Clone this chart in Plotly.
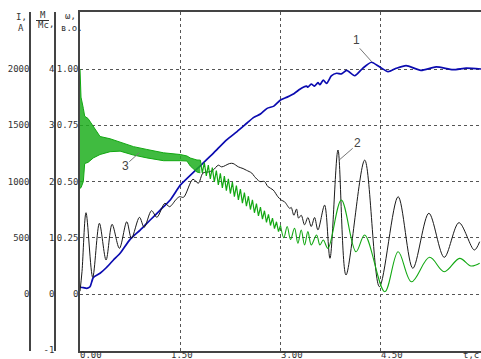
import plotly.graph_objects as go

# ---------------- data ----------------
# curve 1: speed omega (p.u.)
t_w = [0.00, 0.05, 0.10, 0.15, 0.20, 0.30, 0.40, 0.50, 0.60, 0.75, 0.90, 1.05, 1.20, 1.35, 1.45, 1.50,
       1.75, 2.00, 2.19, 2.35, 2.50, 2.60, 2.70, 2.80, 2.90, 3.00, 3.10, 3.20, 3.29, 3.34, 3.39, 3.41,
       3.46, 3.51, 3.56, 3.59, 3.64, 3.69, 3.76, 3.84, 3.91, 3.99, 4.11, 4.23, 4.36, 4.48, 4.61, 4.73,
       4.88, 5.10, 5.33, 5.58, 5.78, 6.00]
w_vals = [0.030, 0.028, 0.025, 0.032, 0.074, 0.092, 0.119, 0.151, 0.181, 0.243, 0.284, 0.329, 0.373, 0.418,
          0.462, 0.484, 0.556, 0.627, 0.684, 0.722, 0.760, 0.785, 0.800, 0.825, 0.835, 0.862, 0.875, 0.890,
          0.910, 0.919, 0.924, 0.919, 0.933, 0.924, 0.939, 0.930, 0.951, 0.936, 0.969, 0.981, 0.978, 0.994,
          0.970, 1.003, 1.030, 1.010, 0.988, 1.003, 1.015, 0.994, 1.009, 0.997, 1.004, 1.000]

# curve 2: torque M/Mc
t_m = [0.00, 0.03, 0.09, 0.19, 0.29, 0.39, 0.48, 0.59, 0.70, 0.77, 0.89, 0.96, 1.07, 1.15, 1.27, 1.34,
       1.44, 1.49, 1.55, 1.69, 1.77, 1.84, 1.92, 1.99, 2.07, 2.12, 2.24, 2.29, 2.37, 2.44, 2.49, 2.57,
       2.61, 2.69, 2.76, 2.81, 2.89, 2.96, 3.01, 3.06, 3.14, 3.16, 3.20, 3.24, 3.27, 3.31, 3.36, 3.41,
       3.46, 3.51, 3.56, 3.66, 3.74, 3.86, 3.98, 4.26, 4.48, 4.76, 4.98, 5.22, 5.45, 5.67, 5.90, 5.98]
m_vals = [0.05, 0.40, 1.445, 0.297, 1.257, 0.604, 1.239, 0.812, 1.285, 0.990, 1.364, 1.186, 1.481, 1.364,
          1.612, 1.552, 1.684, 1.730, 1.720, 2.040, 1.970, 2.150, 2.170, 2.200, 2.290, 2.260, 2.320, 2.320,
          2.260, 2.230, 2.200, 2.150, 2.090, 2.000, 2.000, 1.910, 1.850, 1.730, 1.670, 1.640, 1.520, 1.540,
          1.400, 1.510, 1.350, 1.400, 1.230, 1.360, 1.200, 1.360, 1.140, 1.580, 0.635, 2.560, 0.338, 2.380,
          0.130, 1.730, 0.457, 1.435, 0.652, 1.268, 0.782, 0.930]

# curve 3: current I (A) -- dense oscillation band at start (upper / lower envelope)
t_band = [0.00, 0.015, 0.05, 0.07, 0.12, 0.20, 0.30, 0.45, 0.60, 0.80, 1.00, 1.25, 1.50, 1.60, 1.65, 1.75, 1.80]
i_upper = [2000, 1750, 1650, 1580, 1560, 1490, 1400, 1380, 1350, 1310, 1285, 1255, 1240, 1227, 1209, 1191, 1190]
i_lower = [940, 945, 1000, 1160, 1170, 1210, 1240, 1265, 1270, 1235, 1210, 1185, 1185, 1182, 1138, 1084, 1077]

# curve 3: visible teeth of the oscillation
t_teeth = [1.80, 1.83, 1.86, 1.89, 1.92, 1.95, 1.98, 2.01, 2.04, 2.07, 2.10, 2.13, 2.16, 2.19, 2.22, 2.25,
           2.28, 2.31, 2.34, 2.37, 2.40, 2.43, 2.46, 2.49, 2.52, 2.55, 2.58, 2.61, 2.64, 2.67, 2.70, 2.73,
           2.76, 2.79, 2.82, 2.85, 2.88, 2.91, 2.94, 2.97, 3.00]
i_teeth = [1190, 1077, 1168, 1050, 1145, 1023, 1123, 996, 1098, 970, 1073, 944, 1048, 919, 1023, 893,
           994, 865, 963, 836, 932, 808, 901, 780, 869, 751, 837, 722, 804, 694, 772, 665,
           740, 637, 707, 609, 675, 582, 642, 554, 610]

# curve 3: after t = 3 s
t_i = [3.00, 3.05, 3.10, 3.15, 3.21, 3.26, 3.31, 3.36, 3.41, 3.46, 3.54, 3.59, 3.64, 3.71, 3.91, 4.13,
       4.26, 4.56, 4.76, 4.96, 5.23, 5.45, 5.68, 5.85, 5.98]
i_vals = [610, 500, 600, 485, 584, 451, 569, 436, 554, 436, 524, 436, 480, 406, 836, 376,
          524, 20, 376, 109, 326, 198, 317, 249, 273]

# axes ticks
x_tick_vals = [0.0, 1.5, 3.0, 4.5, 5.8]
x_tick_text = ["0.00", "1.50", "3.00", "4.50", "t,c"]
w_tick_vals = [0, 0.25, 0.5, 0.75, 1.0]
w_tick_text = ["0", "0.25", "0.50", "0.75", "1.00"]
m_tick_vals = [-1, 0, 1, 2, 3, 4]
m_tick_text = ["-1", "0", "1", "2", "3", "4"]
i_tick_vals = [0, 500, 1000, 1500, 2000]
i_tick_text = ["0", "500", "1000", "1500", "2000"]

# ---------------- layout helpers ----------------
W, H = 481, 359
TOP, BOT = 12, 351
def px(x):
    return x / W
def py(y):
    return (BOT - y) / (BOT - TOP)

MONO = "DejaVu Sans Mono"
SANS = "Liberation Sans"
GRID = "#555555"
AX = "#444444"

GREEN = "#12a812"
fig = go.Figure()

# green band (fill between envelopes)
fig.add_trace(go.Scatter(x=t_band, y=i_upper, yaxis="y3", mode="lines",
                         line=dict(color=GREEN, width=1), showlegend=False, hoverinfo="skip"))
fig.add_trace(go.Scatter(x=t_band, y=i_lower, yaxis="y3", mode="lines", fill="tonexty",
                         fillcolor="rgba(30,175,30,0.85)",
                         line=dict(color=GREEN, width=1), showlegend=False, hoverinfo="skip"))
fig.add_trace(go.Scatter(x=t_teeth, y=i_teeth, yaxis="y3", mode="lines",
                         line=dict(color=GREEN, width=1.2), showlegend=False))
fig.add_trace(go.Scatter(x=t_i, y=i_vals, yaxis="y3", mode="lines",
                         line=dict(color=GREEN, width=1.1, shape="spline", smoothing=1.0), showlegend=False))
# black torque
fig.add_trace(go.Scatter(x=t_m, y=m_vals, yaxis="y2", mode="lines",
                         line=dict(color="#1a1a1a", width=1, shape="spline", smoothing=0.9), showlegend=False))
# blue speed
fig.add_trace(go.Scatter(x=t_w, y=w_vals, yaxis="y", mode="lines",
                         line=dict(color="#0b0bb0", width=1.7, shape="spline", smoothing=0.6), showlegend=False))

tickfont = dict(family=MONO, size=9, color="#333333")

fig.update_layout(
    width=W, height=H,
    margin=dict(l=0, r=0, t=TOP, b=H - BOT, pad=0),
    paper_bgcolor="white", plot_bgcolor="white",
    showlegend=False,
    xaxis=dict(domain=[px(80), 1], range=[0, 6.0], tickvals=[0, 1.5, 3.0, 4.5, 6.0],
               showticklabels=False, ticks="", showgrid=True, gridcolor=GRID, griddash="dot",
               gridwidth=1, zeroline=False, showline=True, linecolor=AX, linewidth=1.5, mirror=True),
    yaxis=dict(range=[-0.2533, 1.2533], tickvals=w_tick_vals, ticktext=w_tick_text, tickfont=tickfont,
               ticks="", showgrid=True, gridcolor=GRID, griddash="dot", gridwidth=1, zeroline=False,
               showline=True, linecolor=AX, linewidth=1.5, anchor="x", ticklabelstandoff=-2),
    yaxis2=dict(range=[-1.0133, 5.0133], tickvals=m_tick_vals, ticktext=m_tick_text, tickfont=tickfont,
                ticks="", showgrid=False, zeroline=False, showline=True, linecolor=AX, linewidth=1.5,
                overlaying="y", anchor="free", position=px(55), side="left", ticklabelstandoff=-2),
    yaxis3=dict(range=[-506.7, 2506.7], tickvals=i_tick_vals, ticktext=i_tick_text, tickfont=tickfont,
                ticks="", showgrid=False, zeroline=False, showline=True, linecolor=AX, linewidth=1.5,
                overlaying="y", anchor="free", position=px(30), side="left", ticklabelstandoff=-2),
)

ann = []
# x tick labels
x_label_shift = [0, -9, 0, 0, -5]
for v, s, sh in zip(x_tick_vals, x_tick_text, x_label_shift):
    ann.append(dict(x=v, xref="x", y=py(355.5), yref="paper", text=s, showarrow=False,
                    xanchor="left", yanchor="middle", xshift=sh - 2, font=tickfont))
# headers
hdr = [("I,", 21, 16.5), ("A", 20.5, 28), ("M", 42.5, 15.5), ("Mc", 43.5, 25.5), (",", 51, 24),
       ("\u03c9,", 70, 16), ("в.о.", 71.5, 28)]
for s, x, y in hdr:
    ann.append(dict(x=px(x), xref="paper", y=py(y), yref="paper", text=s, showarrow=False,
                    xanchor="center", yanchor="middle", font=dict(family=MONO, size=9, color="#333333")))
# curve numbers
for s, x, y in [("1", 356, 40), ("2", 357, 143), ("3", 125, 166)]:
    ann.append(dict(x=px(x), xref="paper", y=py(y), yref="paper", text=s, showarrow=False,
                    xanchor="center", yanchor="middle", font=dict(family=SANS, size=12, color="#444444")))
fig.update_layout(annotations=ann)

shapes = [
    dict(type="line", xref="paper", yref="paper", x0=px(36), x1=px(49), y0=py(20.5), y1=py(20.5),
         line=dict(color="#333333", width=1)),
    dict(type="line", xref="paper", yref="paper", x0=px(359.7), x1=px(372), y0=py(48.3), y1=py(62),
         line=dict(color="#777777", width=1)),
    dict(type="line", xref="paper", yref="paper", x0=px(352.7), x1=px(340), y0=py(148.3), y1=py(159.3),
         line=dict(color="#777777", width=1)),
    dict(type="line", xref="paper", yref="paper", x0=px(129.3), x1=px(139.3), y0=py(161.7), y1=py(152.7),
         line=dict(color="#777777", width=1)),
]
fig.update_layout(shapes=shapes)

fig.write_html("out.html", config={"displayModeBar": False},
               post_script="document.body.style.margin='0';document.body.style.overflow='hidden';")
